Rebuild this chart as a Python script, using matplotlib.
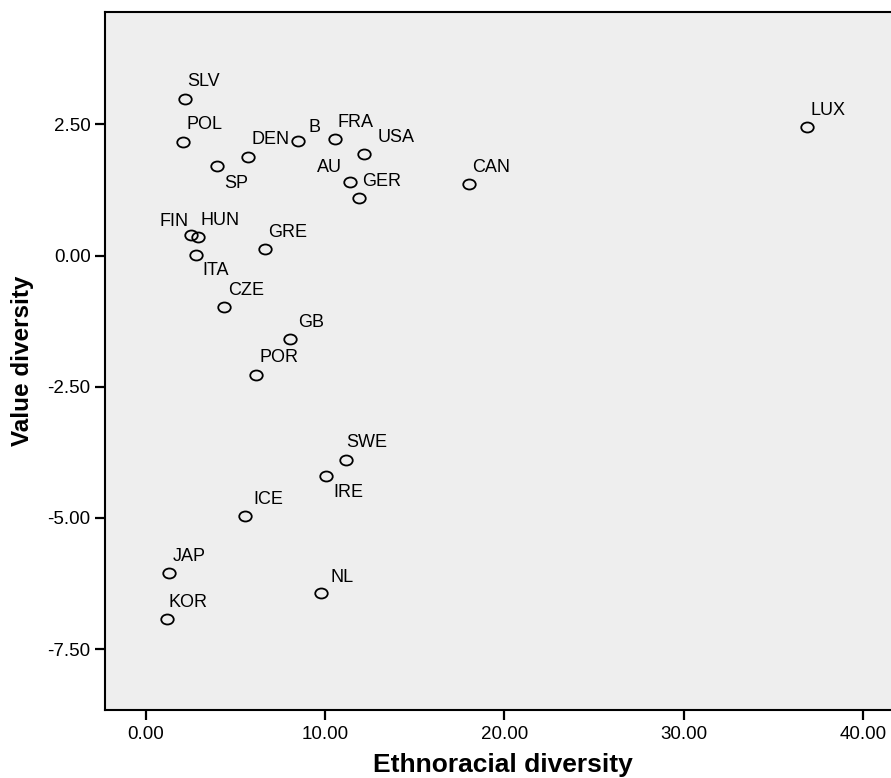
import matplotlib
matplotlib.use("Agg")
import matplotlib.pyplot as plt
from matplotlib.path import Path
from matplotlib.transforms import Affine2D

plt.rcParams['font.family'] = ['Liberation Sans', 'DejaVu Sans']

countries = ["SLV", "POL", "SP", "DEN", "B", "FRA", "USA", "AU", "GER", "CAN", "LUX",
             "FIN", "HUN", "ITA", "GRE", "CZE", "GB", "POR", "SWE", "IRE", "ICE",
             "JAP", "NL", "KOR"]
ethnoracial = [2.16, 2.06, 3.95, 5.68, 8.48, 10.56, 12.17, 11.38, 11.87, 18.04, 36.89,
               2.51, 2.89, 2.77, 6.66, 4.37, 8.05, 6.16, 11.16, 10.06, 5.54,
               1.27, 9.75, 1.16]
value_div = [2.99, 2.17, 1.70, 1.89, 2.19, 2.22, 1.93, 1.41, 1.09, 1.36, 2.45,
             0.39, 0.36, 0.02, 0.12, -0.97, -1.59, -2.27, -3.89, -4.20, -4.97,
             -6.05, -6.43, -6.93]
x_ticks = [0, 10, 20, 30, 40]
x_tick_labels = ["0.00", "10.00", "20.00", "30.00", "40.00"]
y_ticks = [2.5, 0.0, -2.5, -5.0, -7.5]
y_tick_labels = ["2.50", "0.00", "-2.50", "-5.00", "-7.50"]

# label placement (pixel offsets: dx, dy-up of text centre, horizontal alignment)
label_offsets = {
    "SLV": (2.6, 18.7, 'left'), "POL": (3.7, 18.4, 'left'), "SP": (7.6, -16, 'left'),
    "DEN": (3.3, 19, 'left'), "B": (11, 14.3, 'left'), "FRA": (2.7, 18.3, 'left'),
    "USA": (13.7, 18.3, 'left'), "AU": (-7.7, 15.7, 'right'), "GER": (3, 18.4, 'left'),
    "CAN": (2.4, 18.6, 'left'), "LUX": (3.7, 18.3, 'left'), "FIN": (-2.7, 15.3, 'right'),
    "HUN": (2.3, 18, 'left'), "ITA": (7, -14, 'left'), "GRE": (2.4, 18.3, 'left'),
    "CZE": (3.4, 17.4, 'left'), "GB": (8, 18, 'left'), "POR": (2.7, 18.7, 'left'),
    "SWE": (0.7, 18.7, 'left'), "IRE": (7, -15.4, 'left'), "ICE": (8, 18, 'left'),
    "JAP": (3.6, 18.3, 'left'), "NL": (9.3, 17.3, 'left'), "KOR": (1.6, 18, 'left'),
}

W, H = 891, 778
fig = plt.figure(figsize=(W / 100, H / 100), dpi=100)
ax_left, ax_right, ax_top, ax_bottom = 105.3, 891, 11.7, 710
ax = fig.add_axes([ax_left / W, 1 - ax_bottom / H, (ax_right - ax_left) / W, (ax_bottom - ax_top) / H])
ax.set_facecolor('#eeeeee')

ellipse = Path.unit_circle().transformed(Affine2D().scale(1.25, 1.0))
ax.plot(ethnoracial, value_div, linestyle='none', marker=ellipse, markersize=9,
        markerfacecolor='none', markeredgecolor='black', markeredgewidth=1.3, zorder=3)

for name, xv, yv in zip(countries, ethnoracial, value_div):
    dx, dy, ha = label_offsets[name]
    ax.annotate(name, (xv, yv), xytext=(dx, dy - 6), textcoords='offset pixels',
                ha=ha, va='baseline', fontsize=13, color='black', zorder=4)

ax.set_xlim(-2.27, 41.57)
ax.set_ylim(-8.66, 4.65)
ax.set_xticks(x_ticks)
ax.set_xticklabels(x_tick_labels)
ax.set_yticks(y_ticks)
ax.set_yticklabels(y_tick_labels)
ax.tick_params(axis='both', direction='out', length=7.5, width=1.6, color='black',
               labelsize=13.5, labelcolor='black')
ax.tick_params(axis='x', pad=4)
ax.tick_params(axis='y', pad=3)
for s in ['left', 'bottom', 'top']:
    ax.spines[s].set_linewidth(1.5)
    ax.spines[s].set_color('black')
ax.spines['right'].set_visible(False)

fig.text(23 / W, 1 - 361 / H, "Value diversity", rotation=90, ha='center', va='center',
         fontsize=17.5, fontweight='bold')
fig.text(503 / W, 1 - 765 / H, "Ethnoracial diversity", ha='center', va='center',
         fontsize=19, fontweight='bold')

fig.savefig("out.png", dpi=100, facecolor='white')
